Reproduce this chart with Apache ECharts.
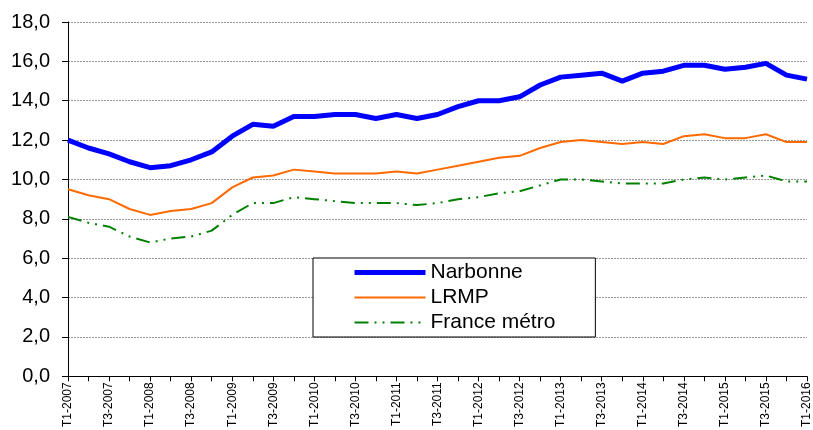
<!DOCTYPE html>
<html>
<head>
<meta charset="utf-8">
<script src="https://cdn.jsdelivr.net/npm/echarts@6/dist/echarts.min.js"></script>
<style>
  html, body { margin: 0; padding: 0; background: #fff; }
  #chart { width: 813px; height: 430px; }
</style>
</head>
<body>
<div id="chart"></div>
<script>
// trimestres
const quarters = [
  'T1-2007', 'T2-2007', 'T3-2007', 'T4-2007',
  'T1-2008', 'T2-2008', 'T3-2008', 'T4-2008',
  'T1-2009', 'T2-2009', 'T3-2009', 'T4-2009',
  'T1-2010', 'T2-2010', 'T3-2010', 'T4-2010',
  'T1-2011', 'T2-2011', 'T3-2011', 'T4-2011',
  'T1-2012', 'T2-2012', 'T3-2012', 'T4-2012',
  'T1-2013', 'T2-2013', 'T3-2013', 'T4-2013',
  'T1-2014', 'T2-2014', 'T3-2014', 'T4-2014',
  'T1-2015', 'T2-2015', 'T3-2015', 'T4-2015',
  'T1-2016'
]
const narbonne = [
  12.0, 11.6, 11.3, 10.9, 10.6, 10.7, 11.0, 11.4,
  12.2, 12.8, 12.7, 13.2, 13.2, 13.3, 13.3, 13.1,
  13.3, 13.1, 13.3, 13.7, 14.0, 14.0, 14.2, 14.8,
  15.2, 15.3, 15.4, 15.0, 15.4, 15.5, 15.8, 15.8,
  15.6, 15.7, 15.9, 15.3, 15.1
]
const lrmp = [
  9.5, 9.2, 9.0, 8.5, 8.2, 8.4, 8.5, 8.8,
  9.6, 10.1, 10.2, 10.5, 10.4, 10.3, 10.3, 10.3,
  10.4, 10.3, 10.5, 10.7, 10.9, 11.1, 11.2, 11.6,
  11.9, 12.0, 11.9, 11.8, 11.9, 11.8, 12.2, 12.3,
  12.1, 12.1, 12.3, 11.9, 11.9
]
const franceMetro = [
  8.1, 7.8, 7.6, 7.1, 6.8, 7.0, 7.1, 7.4,
  8.2, 8.8, 8.8, 9.1, 9.0, 8.9, 8.8, 8.8,
  8.8, 8.7, 8.8, 9.0, 9.1, 9.3, 9.4, 9.7,
  10.0, 10.0, 9.9, 9.8, 9.8, 9.8, 10.0, 10.1,
  10.0, 10.1, 10.2, 9.9, 9.9
]
const yMin = 0
const yMax = 18
const yStep = 2

const font = "'Liberation Sans', Arial, sans-serif"
const greenDash = [14, 6, 2, 6, 2, 6]
let myChart = echarts.init(document.getElementById('chart'))
let option = {
  animation: false,
  backgroundColor: '#fff',
  textStyle: { fontFamily: font },
  grid: { left: 68, right: 3, top: 22, bottom: 52 },
  legend: {
    orient: 'vertical',
    left: 313,
    top: 258,
    backgroundColor: '#fff',
    borderColor: '#000',
    borderWidth: 1,
    borderRadius: 0,
    padding: [4, 40, 4, 39],
    itemWidth: 71,
    itemHeight: 14,
    itemGap: 4,
    itemStyle: { opacity: 0 },
    textStyle: { fontFamily: font, fontSize: 21, color: '#000' },
    data: [
      { name: 'Narbonne', lineStyle: { width: 5, color: '#0000ff' } },
      { name: 'LRMP', lineStyle: { width: 2, color: '#ff6a00' } },
      { name: 'France métro', lineStyle: { width: 2, color: '#008000', type: greenDash } }
    ]
  },
  xAxis: {
    type: 'category',
    boundaryGap: false,
    data: quarters,
    axisLine: { lineStyle: { color: '#000', width: 1 } },
    axisTick: { show: true, interval: 0, length: 5, lineStyle: { color: '#000' } },
    axisLabel: {
      interval: 1,
      rotate: 90,
      fontSize: 12,
      color: '#000',
      fontFamily: font,
      margin: 6
    },
    splitLine: { show: false }
  },
  yAxis: {
    type: 'value',
    min: yMin,
    max: yMax,
    interval: yStep,
    axisLine: { show: true, lineStyle: { color: '#000', width: 1 } },
    axisTick: { show: true, length: 6, lineStyle: { color: '#000' } },
    axisLabel: {
      fontSize: 20,
      color: '#000',
      fontFamily: font,
      margin: 18,
      formatter: v => v.toFixed(1).replace('.', ',')
    },
    splitLine: { show: true, lineStyle: { color: '#999', type: [2, 1], width: 1 } }
  },
  series: [
    {
      name: 'Narbonne',
      type: 'line',
      data: narbonne,
      symbol: 'none',
      lineStyle: { color: '#0000ff', width: 5 },
      itemStyle: { color: '#0000ff' }
    },
    {
      name: 'LRMP',
      type: 'line',
      data: lrmp,
      symbol: 'none',
      lineStyle: { color: '#ff6a00', width: 2 },
      itemStyle: { color: '#ff6a00' }
    },
    {
      name: 'France métro',
      type: 'line',
      data: franceMetro,
      symbol: 'none',
      lineStyle: { color: '#008000', width: 2, type: greenDash },
      itemStyle: { color: '#008000' }
    }
  ]
}
option && myChart.setOption(option)
window.addEventListener('resize', () => { myChart.resize() })
</script>
</body>
</html>
